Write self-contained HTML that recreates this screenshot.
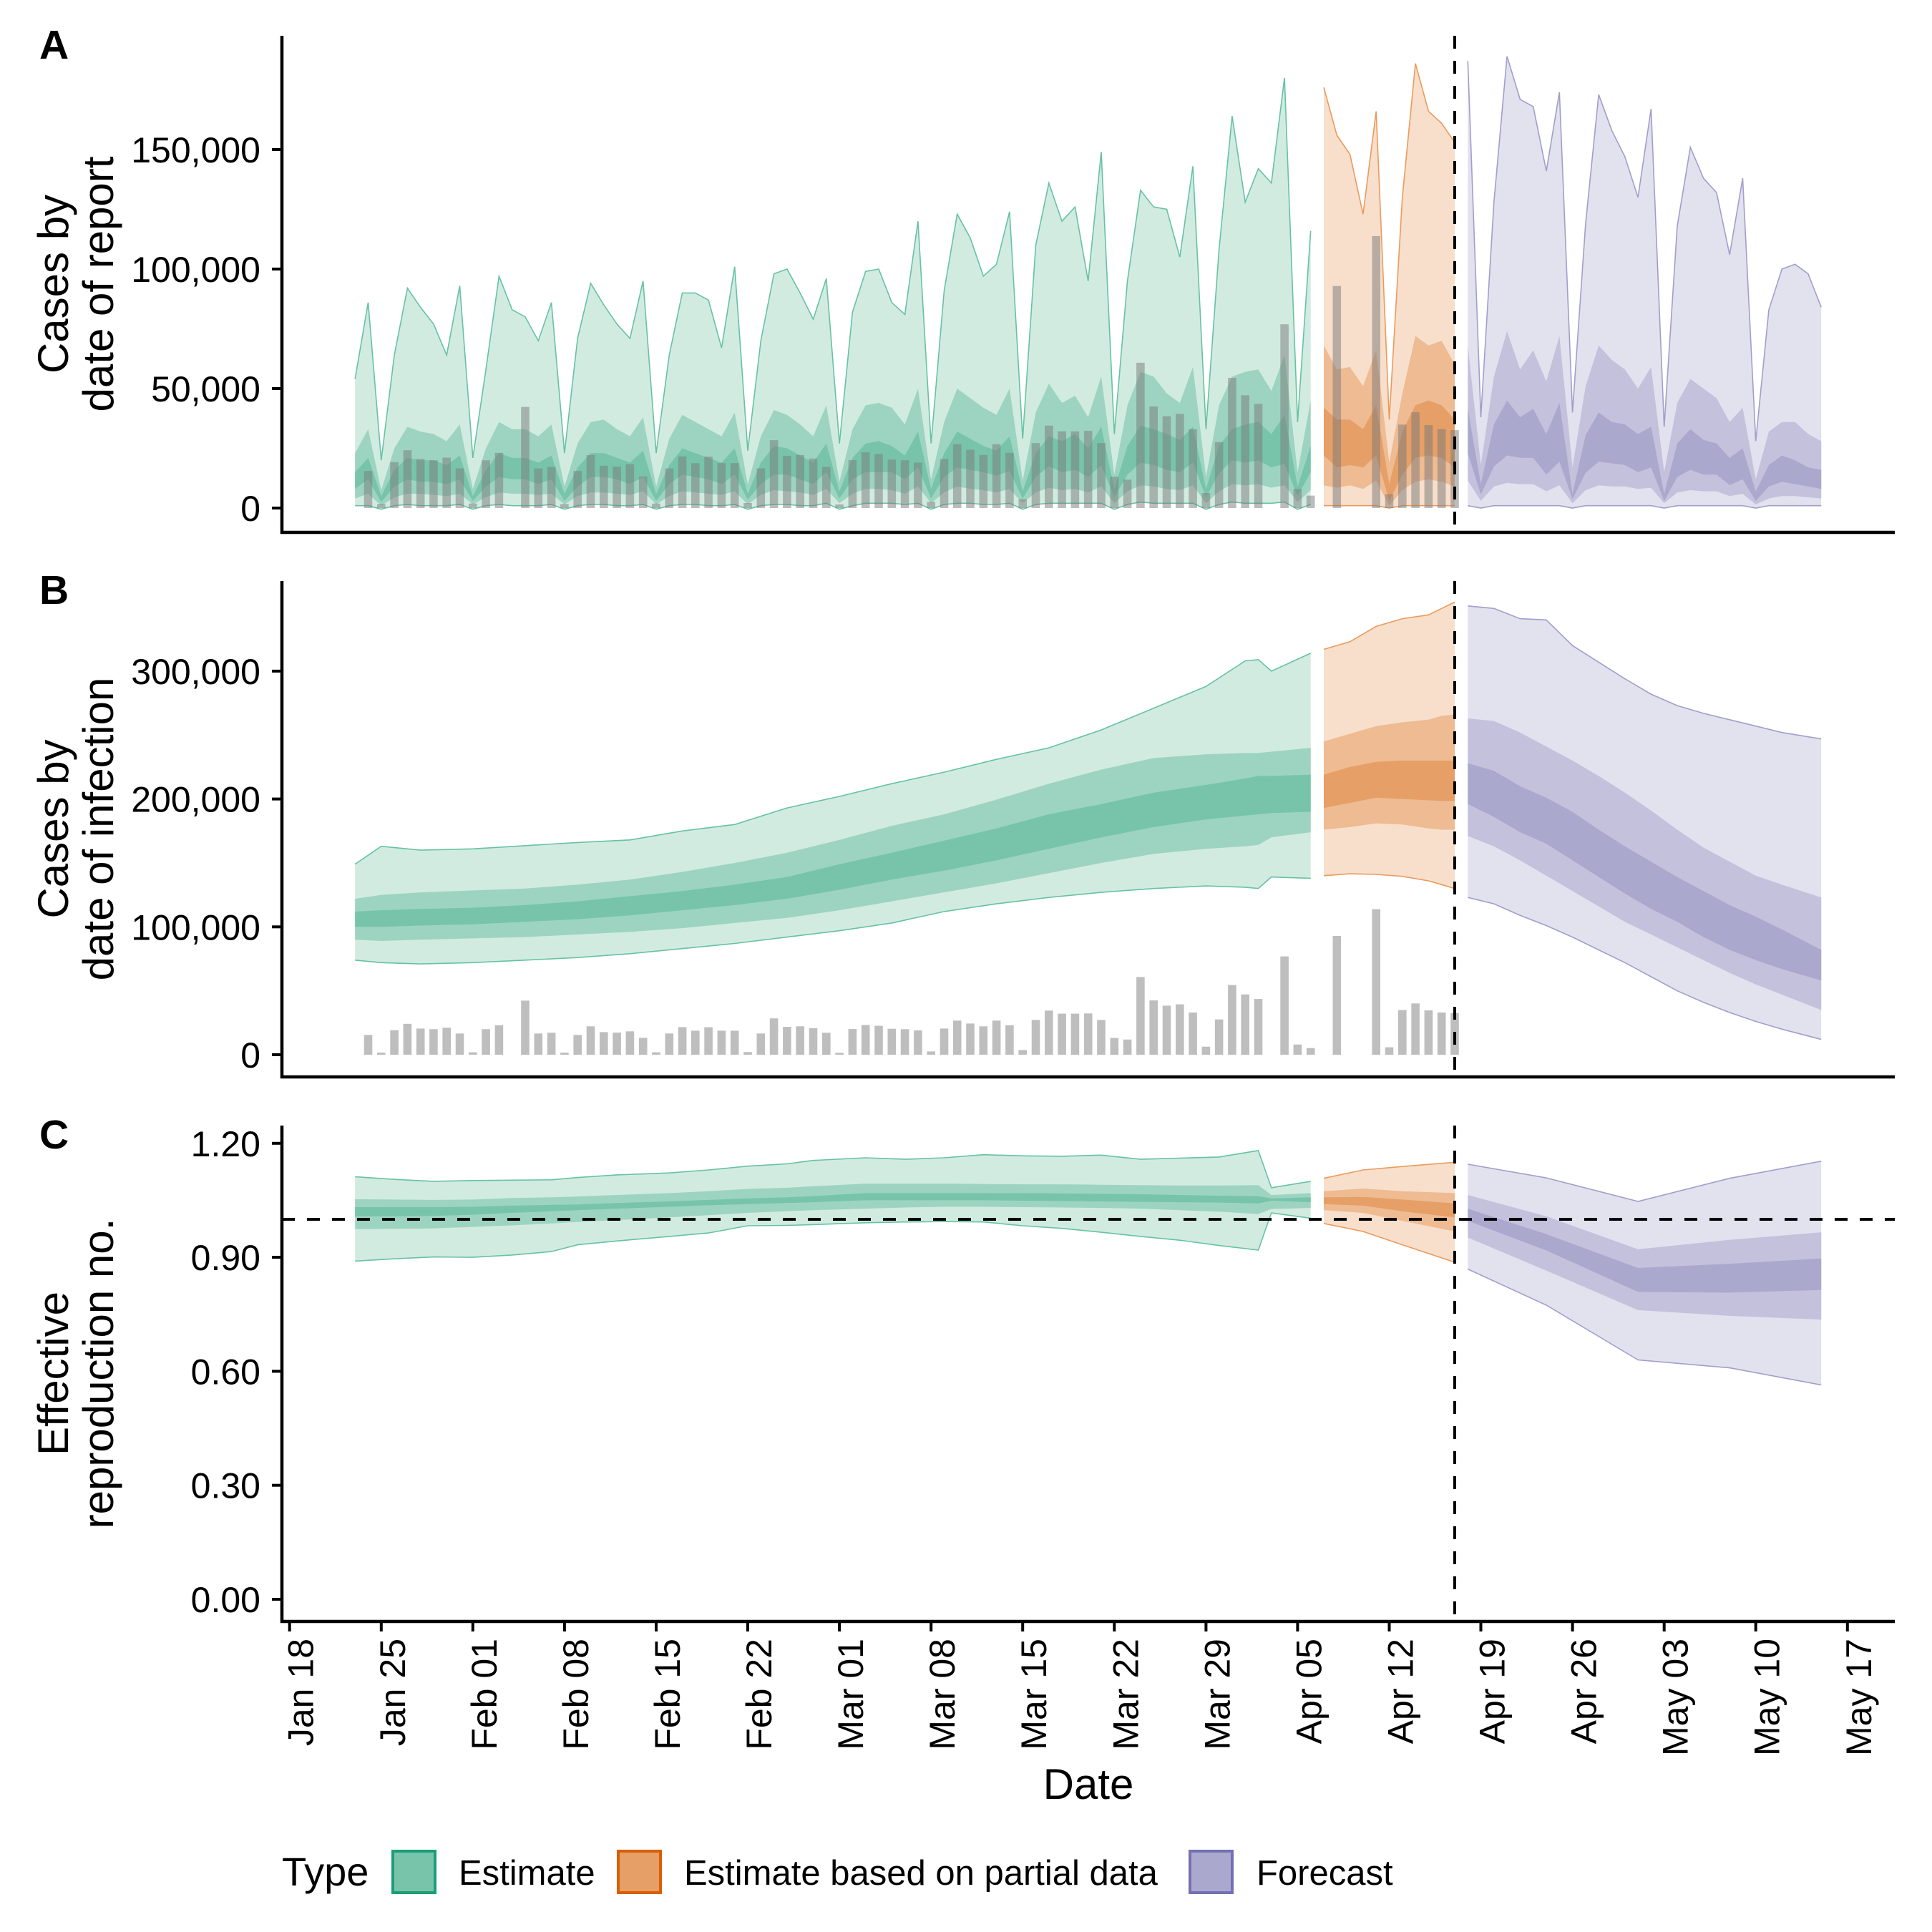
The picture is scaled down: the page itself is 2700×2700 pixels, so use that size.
<!DOCTYPE html>
<html><head><meta charset="utf-8"><style>
html,body{margin:0;padding:0;background:#fff;}
svg{display:block;}
text{font-family:"Liberation Sans",sans-serif;fill:#000;}
</style></head>
<body>
<svg id="chart" width="2700" height="2700" viewBox="0 0 2700 2700" xmlns="http://www.w3.org/2000/svg">
<rect x="0" y="0" width="2700" height="2700" fill="#fff"/>
</svg>
<script>
// ---------- DATA ----------
const tickDays = [0,7,14,21,28,35,42,49,56,63,70,77,84,91,98,105,112,119];
const tickLabels = ["Jan 18","Jan 25","Feb 01","Feb 08","Feb 15","Feb 22","Mar 01","Mar 08","Mar 15","Mar 22","Mar 29","Apr 05","Apr 12","Apr 19","Apr 26","May 03","May 10","May 17"];
const ticksA = [0,50,100,150];
const ticksALabels = ["0","50,000","100,000","150,000"];
const ticksB = [0,100,200,300];
const ticksBLabels = ["0","100,000","200,000","300,000"];
const ticksC = [0,0.3,0.6,0.9,1.2];
const ticksCLabels = ["0.00","0.30","0.60","0.90","1.20"];
const forecastDay = 89;

// reported cases (thousands), daily from day 6
const barStart = 6;
const barValues = [15.5,1.7,19.2,24.2,20.5,20.0,21.1,16.6,1.9,20.0,23.1,0,
42.3,16.6,17.2,1.7,15.5,22.2,17.7,17.3,18.3,13.2,1.9,16.6,21.6,18.8,21.5,18.8,18.8,2.1,16.6,28.4,21.8,22.2,20.7,17.2,1.5,20.1,23.3,22.6,20.3,20.0,19.0,2.6,20.5,26.7,24.4,22.2,26.7,23.1,3.7,27.2,34.5,32.1,32.1,32.3,27.2,13.1,11.9,
60.8,42.5,38.4,39.4,33.0,6.3,27.6,54.5,47.2,43.6,0,76.9,8.0,5.2,0,92.9,0,0,113.8,5.8,34.9,40.1,34.7,33.0,32.6];

// Panel A (thousands), daily
const aGreenStart = 5;
const aGreenU90 = [54,86,20,64,92,84,77,64,93,21,58,97,83,80,70,86,23,71,94,85,77,71,95,23,64,90,90,87,67,101,24,70,98,100,90,79,96,27,82,99,100,86,81,120,27,91,123,113,97,102,124,29,110,136,120,126,95,149,31,95,133,126,125,105,143,33,108,164,128,142,136,180,36,116];
const aGreenU50 = [23,33,7.5,25,34,32,31,28,35,8,25,36,33,33,30,35,9,27,36,37,33,30,38,9,29,39,36,33,30,40,10,30,41,39,35,30,43,11,33,43,44,42,35,50,12,36,50,46,42,39,50,11.5,40,52,44,47,38,55,14,43,57,55,48,44,59,13,43,55,57,58,49,64,15,45];
const aGreenU20 = [15,21,5,16,21,20,20,18,22,5,16,23,21,21,19,22,6,17,23,23,21,19,24,6,18,25,23,21,19,25,6,19,26,25,22,19,27,7,21,27,28,26,22,32,8,23,32,29,26,24,30,7,23,30,28,31,25,34,8,26,34.5,33,31,28.5,34,8,26,33,35,36,31,39,9,26];
const aGreenL20 = [8,12,2.5,9,12,11,11,10,12,3,9,13,12,12,10,12,3,9,13,13,12,10,13,3,10,14,13,12,10,14,3.5,10,14,14,12,10,15,4,12,15,15,15,12,17,4,13,17,16,15,13.5,15.5,4,13,17.5,15,16,13,18,4.5,14,19,18,16,15,19,4.5,14.5,20,19,20,17,18.5,5,15];
const aGreenL50 = [4,6,1,4.5,6,6,5.5,5,6,1.5,4.5,6.5,6,6,5.5,6,1.5,5,6.5,6.5,6,5.5,7,1.5,5,7,6.5,6,5.5,7,1.5,5.5,7.5,7,6.5,5.5,8,2,6,8,8,7.5,6,9,2,6.5,9,8,7.5,6.5,8,2,6.5,8.5,7.5,8,6.5,9,2,7,9.5,9,8,7.5,9.5,2,7,10,9.5,10,8.5,9.5,2.5,7.5];
const aGreenL90 = [1,1,-0.5,1,1.5,1,1,1,1.5,-0.5,1,1.5,1,1,1,1.5,-0.5,1,1.5,1.5,1,1,1.5,-0.5,1,1.5,1.5,1,1,1.5,-0.5,1,1.5,1.5,1,1,2,-0.5,1,2,2,2,1.5,2,-0.5,1.5,2,2,1.5,1.5,2,-0.5,1.5,2,2,2,2,2,-0.5,1.5,2.5,2,2,2,2,-0.5,1.5,2.5,2,2,2,2.5,-0.5,1.5];
const aOrangeStart = 79;
const aOrangeU90 = [176,156,148,123,166,37,130,186,166,161,153];
const aOrangeU50 = [68,58,59,51,66,19,48,72,68,70,60];
const aOrangeU20 = [42,37,37,33,43,10,32,43,45,43,37];
const aOrangeL20 = [22,17,18,17,22,3,14,21,22,21,17];
const aOrangeL50 = [9.5,8.5,9.5,8,11.5,1,7.5,11,12,11,9];
const aOrangeL90 = [1,1,1,1,1,0,1,1,1,1,1];
const aPurpleStart = 90;
const aPurpleU90 = [187,38,128,189,171,168,141,174,40,119,173,158,147,130,167,34,118,151,138,132,106,138,28,83,100,102,98,84];
const aPurpleU50 = [68,18,55,74,58,66,53,72,17,51,68,62,58,50,59,15,44,54,50,46,36,42,12,32,36,36,31,28];
const aPurpleU20 = [41.5,10,35,45,38,41.5,31,44,6,30.5,40,36,35,31,34,6,27,33,28.5,27,21,25,7,18,22,20,17,16];
const aPurpleL20 = [23,5.7,17.4,22,21,21,14,19.4,3.7,14.8,19.4,18.7,18,15,17,3,13,16,14,14,9.6,12,3,9,11,10,9,8];
const aPurpleL50 = [11.5,3,9,10.5,10,10,7,9.5,2,7.5,9.5,9,9,8,8.5,2,6.5,7.5,7,7,5,6,1.5,4,5,5,4.5,4];
const aPurpleL90 = [1,0,1,1,1,1,1,1,0,1,1,1,1,1,1,0,1,1,1,1,1,1,0,1,1,1,1,1];

// Panel B (thousands)
const bGreenDays = [5,7,10,14,18,22,26,30,34,38,42,46,50,54,58,62,66,70,73,74,75,78];
const bGreenU90 = [149,163,160,161,163.5,166,168,175,180,193,202,212,221,231,240,254,271,288,308,309,300,314];
const bGreenU50 = [122,125,127,128.5,130,133,137,143,150,158,168,179,188,199.5,212,223,232,235,236,236,237,240];
const bGreenU20 = [112,113,114,115,117,120,124,128,133,139,149,158,167.5,177,188,196,205,211,216,218,218,219];
const bGreenL20 = [100,100,101,102,104,106,109,113,117,122,129,137,144,152,161,170,178,184,187,188,189,190];
const bGreenL50 = [90,89,90,91,92,94,96,99,103,107,113,120,127,134,142,150,157,161,163,164,170,174];
const bGreenL90 = [74,72,71,72,74,76,79,83,87,92,97,103,112,118,123,127,130,132,131,130,139,138];
const bOrangeDays = [79,81,83,85,87,88,89];
const bOrangeU90 = [317,323,335,341,344,349,354];
const bOrangeU50 = [245,251,257,260,262,265,266];
const bOrangeU20 = [219,225,229,230,230,230,230];
const bOrangeL20 = [193,197,201,200,199,198.5,198.5];
const bOrangeL50 = [176,178,181,180,177,176,176];
const bOrangeL90 = [140,141.5,141,139.5,136,133,130];
const bPurpleDays = [90,92,94,96,98,100,102,104,106,108,110,112,114,117];
const bPurpleU90 = [351,349,341,340,320,307,294,282,273,267,262,257,252,247];
const bPurpleU50 = [263,261,252,241,230,218,205,191,176,162,151,140,133,123];
const bPurpleU20 = [228,222,210,201,190,176,163,151,139,128,117,108,98,82];
const bPurpleL20 = [196,186,174,165,152,139,126,114,104,92,82,74,67,58];
const bPurpleL50 = [171,163,152,140,128,116,104,94,84,74,64,55,47,35];
const bPurpleL90 = [123,118,109,101,92,82,72,61,50,41,33,26,20,12];

// Panel C (R)
const cGreenDays = [5,8,11,14,17,20,22,25,29,32,35,38,40,44,47,50,53,56,59,62,65,68,71,74,75,78];
const cGreenU90 = [1.112,1.105,1.100,1.102,1.103,1.104,1.110,1.117,1.122,1.130,1.140,1.146,1.155,1.162,1.158,1.162,1.170,1.167,1.166,1.169,1.158,1.161,1.164,1.181,1.083,1.100];
const cGreenU50 = [1.053,1.052,1.051,1.052,1.056,1.058,1.060,1.064,1.069,1.074,1.080,1.083,1.087,1.094,1.094,1.094,1.093,1.092,1.092,1.091,1.090,1.089,1.089,1.090,1.064,1.069];
const cGreenU20 = [1.032,1.032,1.032,1.033,1.036,1.038,1.039,1.043,1.047,1.051,1.055,1.058,1.061,1.069,1.069,1.069,1.069,1.069,1.068,1.067,1.066,1.064,1.062,1.061,1.055,1.058];
const cGreenL20 = [1.008,1.008,1.009,1.012,1.017,1.021,1.024,1.028,1.033,1.037,1.040,1.043,1.045,1.050,1.050,1.050,1.050,1.049,1.048,1.047,1.046,1.045,1.044,1.042,1.049,1.045];
const cGreenL50 = [0.974,0.975,0.976,0.980,0.984,0.989,0.993,0.998,1.005,1.011,1.017,1.021,1.024,1.028,1.031,1.033,1.033,1.032,1.031,1.030,1.028,1.024,1.020,1.014,1.027,1.030];
const cGreenL90 = [0.890,0.896,0.901,0.900,0.906,0.915,0.933,0.943,0.955,0.964,0.983,0.984,0.986,0.991,0.993,0.994,0.993,0.983,0.976,0.966,0.955,0.945,0.931,0.919,1.017,1.003];
const cOrangeDays = [79,82,85,89];
const cOrangeU90 = [1.108,1.130,1.139,1.150];
const cOrangeU50 = [1.074,1.081,1.074,1.069];
const cOrangeU20 = [1.058,1.059,1.052,1.042];
const cOrangeL20 = [1.040,1.036,1.021,1.005];
const cOrangeL50 = [1.024,1.017,0.996,0.968];
const cOrangeL90 = [0.989,0.968,0.933,0.887];
const cPurpleDays = [90,96,103,110,117];
const cPurpleU90 = [1.145,1.109,1.047,1.108,1.153];
const cPurpleU50 = [1.064,1.008,0.921,0.946,0.966];
const cPurpleU20 = [1.028,0.961,0.872,0.883,0.897];
const cPurpleL20 = [0.996,0.918,0.809,0.807,0.814];
const cPurpleL50 = [0.952,0.865,0.761,0.746,0.736];
const cPurpleL90 = [0.869,0.774,0.630,0.609,0.564];

// ---------- SCALES ----------
const NS = "http://www.w3.org/2000/svg";
const svg = document.getElementById("chart");
const AX_L = 394, AX_R = 2648;
const xS = d => 404.7 + d * 18.295;
const yA = v => 710 - v * 3.34;
const yB = v => 1474 - v * 1.787;
const yC = r => 2235 - r * 531;
const panels = [
  {key:"a", top:50, bottom:744, y:yA, letter:"A", t1:"Cases by", t2:"date of report", ticks:ticksA, labels:ticksALabels},
  {key:"b", top:812, bottom:1505, y:yB, letter:"B", t1:"Cases by", t2:"date of infection", ticks:ticksB, labels:ticksBLabels},
  {key:"c", top:1573, bottom:2266, y:yC, letter:"C", t1:"Effective", t2:"reproduction no.", ticks:ticksC, labels:ticksCLabels}
];
const COLORS = {
  green:{l:"#d2ebe1",m:"#9dd4c1",d:"#77c4ab",line:"#66c2a5"},
  orange:{l:"#f7dfcb",m:"#eebb92",d:"#e59f67",line:"#ec9a5c"},
  purple:{l:"#e2e1ee",m:"#c4c1dd",d:"#aba8cd",line:"#a29ecb"}
};
function mk(tag, attrs, parent){
  const e = document.createElementNS(NS, tag);
  for (const k in attrs) e.setAttribute(k, attrs[k]);
  (parent||svg).appendChild(e);
  return e;
}
function bandPath(days, lo, hi, y){
  let p = "";
  days.forEach((d,i)=>{ p += (i?"L":"M") + xS(d).toFixed(1) + "," + y(hi[i]).toFixed(1); });
  for (let i = days.length-1; i >= 0; i--) p += "L" + xS(days[i]).toFixed(1) + "," + y(lo[i]).toFixed(1);
  return p + "Z";
}
function linePath(days, v, y){
  return days.map((d,i)=>(i?"L":"M")+xS(d).toFixed(1)+","+y(v[i]).toFixed(1)).join("");
}
function dailyDays(start, n){ const a=[]; for(let i=0;i<n;i++) a.push(start+i); return a; }
function drawSeries(panelKey, type, days, u90, u50, u20, l20, l50, l90, y){
  const c = COLORS[type];
  const g = mk("g", {});
  
  
  const p1 = mk("path", {d:bandPath(days,l90,u90,y), fill:c.l}, g);
  
  
  const p2 = mk("path", {d:bandPath(days,l50,u50,y), fill:c.m}, g);
  
  
  const p3 = mk("path", {d:bandPath(days,l20,u20,y), fill:c.d}, g);
  
  
  const o1 = mk("path", {d:linePath(days,u90,y), fill:"none", stroke:c.line, "stroke-width":1.6}, g);
  
  
  const o2 = mk("path", {d:linePath(days,l90,y), fill:"none", stroke:c.line, "stroke-width":1.6}, g);
  
  
}
function drawBars(panelKey, y, fill, op){
  const g = mk("g", {});
  
  
  barValues.forEach((v,i)=>{
    if (v <= 0) return;
    const d = barStart + i;
    const r = mk("rect", {x:(xS(d)-5.8).toFixed(1), y:y(v).toFixed(1), width:11.6, height:(y(0)-y(v)).toFixed(1), fill:fill, "fill-opacity":op}, g);
    
    
  });
}
function text(str, attrs, parent){ const t = mk("text", attrs, parent); t.textContent = str; return t; }

// ---------- PANEL A ----------
drawSeries("a","green",dailyDays(aGreenStart,aGreenU90.length),aGreenU90,aGreenU50,aGreenU20,aGreenL20,aGreenL50,aGreenL90,yA);
drawSeries("a","orange",dailyDays(aOrangeStart,aOrangeU90.length),aOrangeU90,aOrangeU50,aOrangeU20,aOrangeL20,aOrangeL50,aOrangeL90,yA);
drawSeries("a","purple",dailyDays(aPurpleStart,aPurpleU90.length),aPurpleU90,aPurpleU50,aPurpleU20,aPurpleL20,aPurpleL50,aPurpleL90,yA);
drawBars("a", yA, "#7a7a7a", 0.5);

// ---------- PANEL B ----------
drawBars("b", yB, "#bebebe", 1);
drawSeries("b","green",bGreenDays,bGreenU90,bGreenU50,bGreenU20,bGreenL20,bGreenL50,bGreenL90,yB);
drawSeries("b","orange",bOrangeDays,bOrangeU90,bOrangeU50,bOrangeU20,bOrangeL20,bOrangeL50,bOrangeL90,yB);
drawSeries("b","purple",bPurpleDays,bPurpleU90,bPurpleU50,bPurpleU20,bPurpleL20,bPurpleL50,bPurpleL90,yB);

// ---------- PANEL C ----------
drawSeries("c","green",cGreenDays,cGreenU90,cGreenU50,cGreenU20,cGreenL20,cGreenL50,cGreenL90,yC);
drawSeries("c","orange",cOrangeDays,cOrangeU90,cOrangeU50,cOrangeU20,cOrangeL20,cOrangeL50,cOrangeL90,yC);
drawSeries("c","purple",cPurpleDays,cPurpleU90,cPurpleU50,cPurpleU20,cPurpleL20,cPurpleL50,cPurpleL90,yC);
const hl = mk("line", {x1:AX_L, x2:AX_R, y1:yC(1).toFixed(1), y2:yC(1).toFixed(1), stroke:"#000", "stroke-width":4, "stroke-dasharray":"18 17"});



// ---------- AXES, LABELS ----------
panels.forEach(p=>{
  const vl = mk("line", {x1:xS(forecastDay).toFixed(1), x2:xS(forecastDay).toFixed(1), y1:p.top, y2:p.bottom, stroke:"#000", "stroke-width":4, "stroke-dasharray":"18 17"});
  
  
  const ya = mk("line", {x1:AX_L, x2:AX_L, y1:p.top, y2:p.bottom+2, stroke:"#000", "stroke-width":4.5});
  
  
  const xa = mk("line", {x1:AX_L-2, x2:AX_R, y1:p.bottom, y2:p.bottom, stroke:"#000", "stroke-width":4.5});
  
  
  p.ticks.forEach((v,i)=>{
    const yy = p.y(v);
    const tk = mk("line", {x1:AX_L-14, x2:AX_L, y1:yy.toFixed(1), y2:yy.toFixed(1), stroke:"#000", "stroke-width":4});
    
    
    const tl = text(p.labels[i], {x:364, y:(yy+18).toFixed(1), "font-size":50, "text-anchor":"end"});
    
    
  });
  const mid = (p.top + p.bottom)/2;
  const t1 = text(p.t1, {transform:"translate(95," + mid + ") rotate(-90)", "font-size":60, "text-anchor":"middle"});
  
  
  const t2 = text(p.t2, {transform:"translate(158," + mid + ") rotate(-90)", "font-size":60, "text-anchor":"middle"});
  
  
  const lt = text(p.letter, {x:55, y:p.top+32, "font-size":57, "font-weight":"bold"});
  
  
});

// x ticks (bottom panel only)
tickDays.forEach((d,i)=>{
  const xx = xS(d);
  const tk = mk("line", {x1:xx.toFixed(1), x2:xx.toFixed(1), y1:2266, y2:2280, stroke:"#000", "stroke-width":4});
  
  
  const tl = text(tickLabels[i], {transform:"translate(" + (xx+33).toFixed(1) + ",2290) rotate(-90)", "font-size":50, "text-anchor":"end"});
  
  
});
const xt = text("Date", {x:1521, y:2514, "font-size":60, "text-anchor":"middle"});



// legend
const lg = mk("g", {});


const lgt = text("Type", {x:394, y:2635, "font-size":56}, lg);


const legendItems = [
  {x:549, fill:"#77c4ab", stroke:"#1b9e77", label:"Estimate", tx:641},
  {x:864, fill:"#e59f67", stroke:"#d95f02", label:"Estimate based on partial data", tx:956},
  {x:1663, fill:"#aba8cd", stroke:"#7570b3", label:"Forecast", tx:1756}
];
legendItems.forEach(it=>{
  const r = mk("rect", {x:it.x, y:2587, width:59, height:58, fill:it.fill, stroke:it.stroke, "stroke-width":4}, lg);
  
  
  const t = text(it.label, {x:it.tx, y:2634, "font-size":49}, lg);
  
  
});
</script>
</body></html>
